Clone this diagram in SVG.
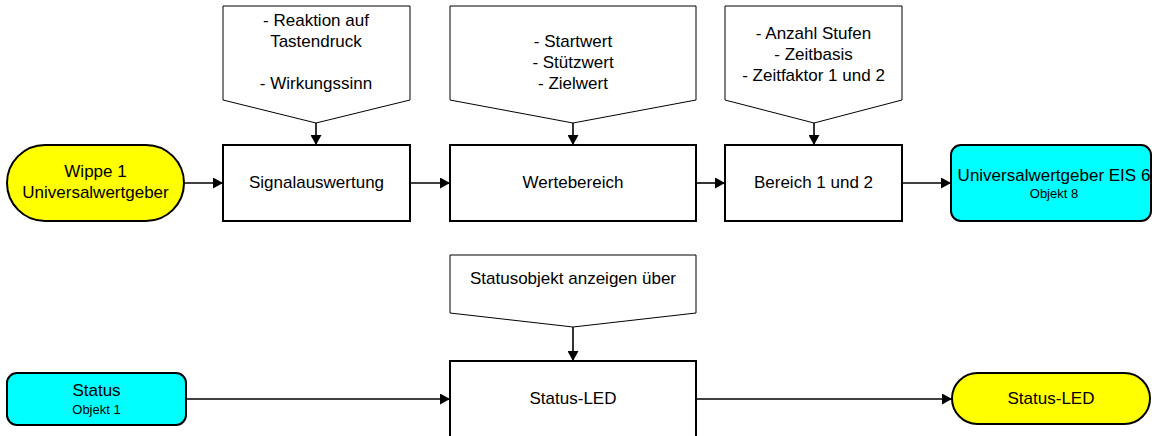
<svg xmlns="http://www.w3.org/2000/svg" width="1152" height="436" viewBox="0 0 1152 436">
<style>
text{font-family:"Liberation Sans",Arial,sans-serif;fill:#000;text-anchor:middle}
.t{font-size:17px}
.s{font-size:13px}
.box{fill:#fff;stroke:#000;stroke-width:2}
.call{fill:#fff;stroke:#000;stroke-width:1}
.yel{fill:#ffff00;stroke:#000;stroke-width:2}
.cy{fill:#00ffff;stroke:#000;stroke-width:2}
.c{stroke:#000;stroke-width:1.6;fill:none;marker-end:url(#ah)}
</style>
<defs>
<marker id="ah" markerUnits="userSpaceOnUse" markerWidth="11" markerHeight="11" refX="10" refY="5.5" orient="auto">
<path d="M0,0 L10,5.5 L0,11 Z" fill="#000"/>
</marker>
</defs>
<g id="connectors">
<line class="c" x1="184" y1="183" x2="223" y2="183"/>
<line class="c" x1="410" y1="183" x2="450" y2="183"/>
<line class="c" x1="696" y1="183" x2="725" y2="183"/>
<line class="c" x1="902" y1="183" x2="951" y2="183"/>
<line class="c" x1="316" y1="123" x2="316" y2="145"/>
<line class="c" x1="573" y1="123" x2="573" y2="145"/>
<line class="c" x1="814" y1="123" x2="814" y2="145"/>
<line class="c" x1="573" y1="327" x2="573" y2="361"/>
<line class="c" x1="186" y1="399" x2="450" y2="399"/>
<line class="c" x1="696" y1="399" x2="952" y2="399"/>
</g>
<g id="wippe">
<rect class="yel" x="7" y="145" width="177" height="76" rx="38" ry="38"/>
<text class="t" x="95.5" y="177">Wippe 1</text>
<text class="t" x="95.5" y="198">Universalwertgeber</text>
</g>
<g id="call1">
<path class="call" d="M223,6 H410 V100 L316,123 L223,100 Z"/>
<text class="t" x="316" y="26">- Reaktion auf</text>
<text class="t" x="316" y="47">Tastendruck</text>
<text class="t" x="316" y="89">- Wirkungssinn</text>
</g>
<g id="signal">
<rect class="box" x="223" y="145" width="187" height="76"/>
<text class="t" x="316.5" y="188">Signalauswertung</text>
</g>
<g id="call2">
<path class="call" d="M450,6 H696 V100 L573,123 L450,100 Z"/>
<text class="t" x="573" y="47">- Startwert</text>
<text class="t" x="573" y="68">- Stützwert</text>
<text class="t" x="573" y="89">- Zielwert</text>
</g>
<g id="werte">
<rect class="box" x="450" y="145" width="246" height="76"/>
<text class="t" x="573" y="188">Wertebereich</text>
</g>
<g id="call3">
<path class="call" d="M725,6 H902 V100 L814,123 L725,100 Z"/>
<text class="t" x="813.5" y="39">- Anzahl Stufen</text>
<text class="t" x="813.5" y="60">- Zeitbasis</text>
<text class="t" x="813.5" y="81">- Zeitfaktor 1 und 2</text>
</g>
<g id="bereich">
<rect class="box" x="725" y="145" width="177" height="76"/>
<text class="t" x="813.5" y="188">Bereich 1 und 2</text>
</g>
<g id="eis6">
<rect class="cy" x="951" y="145" width="200" height="76" rx="10" ry="10"/>
<text class="t" x="1054" y="181">Universalwertgeber EIS 6</text>
<text class="s" x="1054" y="198">Objekt 8</text>
</g>
<g id="call4">
<path class="call" d="M450,255 H696 V313 L573,327 L450,313 Z"/>
<text class="t" x="573" y="284">Statusobjekt anzeigen über</text>
</g>
<g id="status">
<rect class="cy" x="7" y="373" width="179" height="52" rx="10" ry="10"/>
<text class="t" x="96.5" y="396">Status</text>
<text class="s" x="96.5" y="414">Objekt 1</text>
</g>
<g id="statusled">
<rect class="box" x="450" y="361" width="246" height="80"/>
<text class="t" x="573" y="404">Status-LED</text>
</g>
<g id="led">
<rect class="yel" x="952" y="373" width="198" height="51" rx="25.5" ry="25.5"/>
<text class="t" x="1051" y="404">Status-LED</text>
</g>
</svg>
